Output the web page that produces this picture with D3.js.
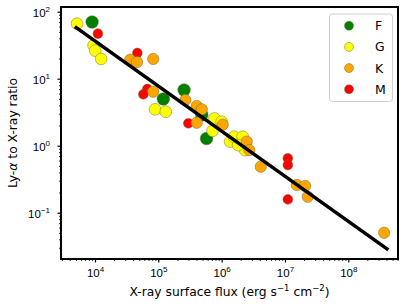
<!DOCTYPE html>
<html><head><meta charset="utf-8">
<script src="https://cdn.jsdelivr.net/npm/d3@7"></script>
<style>body{margin:0;background:#fff}svg{display:block;font-family:"DejaVu Sans",sans-serif}</style>
</head><body>
<svg id="c" width="407" height="306"></svg>
<script>
// ---- data ----
const categories = ["F", "G", "K", "M"];
const colors = ["#008000", "#ffff00", "#ffa500", "#ff0000"];
const radii = [6.3, 5.9, 5.7, 4.9];
const fX = [9.0e3, 1.20e5, 2.55e5, 4.86e5, 5.77e5];
const fY = [70.2, 4.98, 6.78, 2.87, 1.28];
const gX = [5.2e3, 9.5e3, 1.01e4, 1.25e4, 8.9e4, 1.31e5, 7.7e5, 7.2e5, 1.0e6, 1.36e6, 1.57e6, 2.15e6, 2.34e6, 1.82e6];
const gY = [66.2, 31.5, 26.2, 19.7, 3.49, 3.21, 2.55, 1.67, 2.28, 1.15, 1.36, 1.36, 0.86, 1.02];
const kX = [3.6e4, 4.6e4, 8.3e4, 8.3e4, 2.67e5, 4.04e5, 4.86e5, 4.04e5, 1.04e6, 2.49e6, 2.74e6, 4.15e6, 1.54e7, 2.08e7, 2.29e7, 3.68e8];
const kY = [19.2, 17.7, 19.7, 6.40, 4.81, 3.92, 3.49, 2.20, 2.06, 1.15, 0.86, 0.486, 0.259, 0.251, 0.173, 0.0502];
const mX = [1.11e4, 4.66e4, 6.7e4, 5.8e4, 2.98e5, 1.11e7, 1.11e7, 1.11e7];
const mY = [47.0, 24.2, 7.02, 5.85, 2.16, 0.649, 0.515, 0.158];
const fitSlope = -0.673, fitLogIntercept = 4.255;
const fitXRange = [4.8e3, 4.3e8];
const xTickExp = [4, 5, 6, 7, 8];
const yTickExp = [-1, 0, 1, 2];
const xLabelParts = [["X-ray surface flux (erg s", 0], ["\u22121", 1], [" cm", 0], ["\u22122", 1], [")", 0]];

// ---- layout ----
const L = 61, R = 398, T = 7, B = 259;
const svg = d3.select("#c");
const x = d3.scaleLog().domain([Math.pow(10, 3.463), Math.pow(10, 8.785)]).range([L, R]);
const y = d3.scaleLog().domain([Math.pow(10, -1.691), Math.pow(10, 2.07)]).range([B, T]);

function minors(scale) {
  const [a, b] = scale.domain(); const out = [];
  for (let e = Math.floor(Math.log10(a)); e <= Math.ceil(Math.log10(b)); e++)
    for (let m = 2; m <= 9; m++) { const v = m * Math.pow(10, e); if (v >= a && v <= b) out.push(v); }
  return out;
}

// minor ticks
svg.append("g").attr("transform", `translate(0,${B})`)
  .call(d3.axisBottom(x).tickValues(minors(x)).tickSize(2).tickFormat(""))
  .call(g => { g.select(".domain").remove(); g.selectAll("line").attr("stroke-width", 0.8); });
svg.append("g").attr("transform", `translate(${L},0)`)
  .call(d3.axisLeft(y).tickValues(minors(y)).tickSize(2).tickFormat(""))
  .call(g => { g.select(".domain").remove(); g.selectAll("line").attr("stroke-width", 0.8); });

// major ticks
const xa = svg.append("g").attr("transform", `translate(0,${B})`)
  .call(d3.axisBottom(x).tickValues(xTickExp.map(e => Math.pow(10, e))).tickSize(3.5).tickFormat(""));
xa.select(".domain").remove();
xa.selectAll("line").attr("stroke-width", 1.2);
xa.selectAll(".tick").append("text").attr("y", 18).attr("fill", "#000")
  .attr("text-anchor", "middle").attr("font-size", 11.5)
  .each(function(d) {
    const t = d3.select(this);
    t.append("tspan").text("10");
    t.append("tspan").attr("dy", -5).attr("font-size", 8).text(String(Math.round(Math.log10(d))).replace("-", "\u2212"));
  });

const ya = svg.append("g").attr("transform", `translate(${L},0)`)
  .call(d3.axisLeft(y).tickValues(yTickExp.map(e => Math.pow(10, e))).tickSize(3.5).tickFormat(""));
ya.select(".domain").remove();
ya.selectAll("line").attr("stroke-width", 1.2);
ya.selectAll(".tick").append("text").attr("x", -11).attr("y", 5).attr("fill", "#000")
  .attr("text-anchor", "end").attr("font-size", 11.5)
  .each(function(d) {
    const t = d3.select(this);
    t.append("tspan").text("10");
    t.append("tspan").attr("dy", -5).attr("font-size", 8).text(String(Math.round(Math.log10(d))).replace("-", "\u2212"));
  });

// points
const groups = [
  {c: 0, xs: fX, ys: fY}, {c: 1, xs: gX, ys: gY}, {c: 2, xs: kX, ys: kY}, {c: 3, xs: mX, ys: mY}
];
const drawOrder = [3, 0, 1, 2];
const clip = svg.append("clipPath").attr("id", "cp").append("rect").attr("x", L).attr("y", T).attr("width", R - L).attr("height", B - T);
const pg = svg.append("g").attr("clip-path", "url(#cp)");
drawOrder.forEach(i => {
  const grp = groups[i];
  pg.selectAll(null).data(grp.xs.map((v, j) => [v, grp.ys[j]])).enter().append("circle")
    .attr("cx", d => x(d[0])).attr("cy", d => y(d[1])).attr("r", radii[grp.c])
    .attr("fill", colors[grp.c]).attr("stroke", "#6b6b3a").attr("stroke-opacity", 0.8).attr("stroke-width", 0.6);
});

// fit line
const fitPts = fitXRange.map(v => [v, Math.pow(10, fitLogIntercept + fitSlope * Math.log10(v))]);
pg.append("path").attr("d", d3.line().x(d => x(d[0])).y(d => y(d[1]))(fitPts))
  .attr("stroke", "#000").attr("stroke-width", 3.5).attr("fill", "none");

// frame
svg.append("rect").attr("x", L).attr("y", T).attr("width", R - L).attr("height", B - T)
  .attr("fill", "none").attr("stroke", "#000").attr("stroke-width", 2);

// legend
const lg = svg.append("g");
lg.append("rect").attr("x", 329.5).attr("y", 14).attr("width", 63).attr("height", 87.5).attr("rx", 3)
  .attr("fill", "#fff").attr("fill-opacity", 0.8).attr("stroke", "#d0d0d0").attr("stroke-width", 1);
categories.forEach((c, i) => {
  const yy = 25.7 + i * 21.2;
  lg.append("circle").attr("cx", 349).attr("cy", yy).attr("r", 4.5)
    .attr("fill", colors[i]).attr("stroke", "#6b6b3a").attr("stroke-opacity", 0.8).attr("stroke-width", 0.6);
  lg.append("text").attr("x", 375).attr("y", yy + 4.5).attr("font-size", 12.5).attr("fill", "#000").text(c);
});

// axis labels
const xl = svg.append("text").attr("x", (L + R) / 2).attr("y", 296).attr("text-anchor", "middle").attr("font-size", 12.3);
xLabelParts.forEach(([s, sup], i) => {
  const prev = i > 0 ? xLabelParts[i - 1][1] : 0;
  const dy = sup && !prev ? -5 : (!sup && prev ? 5 : 0);
  xl.append("tspan").attr("dy", dy).attr("font-size", sup ? 8.5 : 12.3).text(s);
});
const yl = svg.append("text").attr("transform", `translate(17,${(T + B) / 2}) rotate(-90)`)
  .attr("text-anchor", "middle").attr("font-size", 12.3);
yl.append("tspan").text("Ly-");
yl.append("tspan").attr("font-style", "italic").text("\u03b1");
yl.append("tspan").text(" to X-ray ratio");
</script>
</body></html>
